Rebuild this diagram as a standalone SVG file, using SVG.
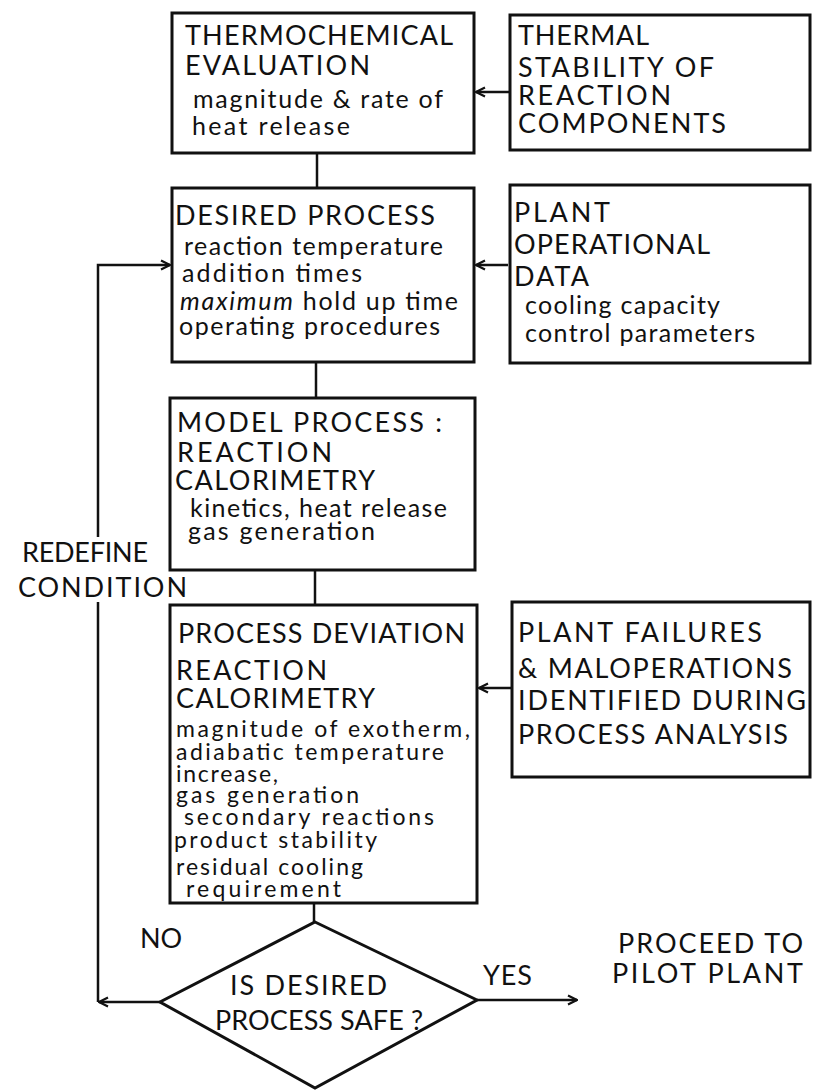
<svg xmlns="http://www.w3.org/2000/svg" width="814" height="1090" viewBox="0 0 814 1090">
<style>
  .box{fill:#fff;stroke:#111;stroke-width:3}
  .ln{fill:none;stroke:#111;stroke-width:2.5}
  text{font-family:Lato,"Liberation Sans",sans-serif;font-size:27px;fill:#111}
  text.lc{font-size:25px}
  text.sm{font-size:23px}
</style>
<defs>
  <marker id="ah" viewBox="0 0 12 12" refX="11" refY="6" markerWidth="12" markerHeight="12" markerUnits="userSpaceOnUse" orient="auto">
    <path d="M2,1.5 L11,6 L2,10.5" fill="none" stroke="#111" stroke-width="2.2"/>
  </marker>
</defs>
<rect width="814" height="1090" fill="#fff"/>

<g id="connectors">
  <line class="ln" x1="317" y1="153" x2="317" y2="188"/>
  <line class="ln" x1="316" y1="362" x2="316" y2="398"/>
  <line class="ln" x1="315" y1="570" x2="315" y2="605"/>
  <line class="ln" x1="314" y1="903" x2="314" y2="922"/>
  <line class="ln" x1="510" y1="92" x2="476" y2="92" marker-end="url(#ah)"/>
  <line class="ln" x1="508" y1="265" x2="476" y2="265" marker-end="url(#ah)"/>
  <line class="ln" x1="512" y1="688" x2="479" y2="688" marker-end="url(#ah)"/>
  <line class="ln" x1="160" y1="1002" x2="99" y2="1002" marker-end="url(#ah)"/>
  <polyline class="ln" points="98,1002 98,602"/>
  <polyline class="ln" points="98,537 98,265 170,265" marker-end="url(#ah)"/>
  <line class="ln" x1="477" y1="1000" x2="577" y2="1000" marker-end="url(#ah)"/>
</g>

<g id="thermochemical">
  <rect class="box" x="172" y="13" width="302" height="140"/>
  <text x="185" y="45" textLength="268">THERMOCHEMICAL</text>
  <text x="185" y="75" textLength="185">EVALUATION</text>
  <text class="lc" x="193" y="108" textLength="250">magnitude &amp; rate of</text>
  <text class="lc" x="192" y="135" textLength="158">heat release</text>
</g>

<g id="thermal-stability">
  <rect class="box" x="510" y="15" width="300" height="135"/>
  <text x="518" y="45" textLength="131">THERMAL</text>
  <text x="518" y="77" textLength="196">STABILITY OF</text>
  <text x="518" y="105" textLength="153">REACTION</text>
  <text x="518" y="133" textLength="208">COMPONENTS</text>
</g>

<g id="desired-process">
  <rect class="box" x="172" y="188" width="302" height="174"/>
  <text x="175" y="225" textLength="260">DESIRED  PROCESS</text>
  <text class="lc" x="184" y="255" textLength="259">reaction temperature</text>
  <text class="lc" x="182" y="282" textLength="180">addition  times</text>
  <text class="lc" x="180" y="310" textLength="278"><tspan font-style="italic">maximum</tspan> hold up time</text>
  <text class="lc" x="179" y="335" textLength="261">operating  procedures</text>
</g>

<g id="plant-operational">
  <rect class="box" x="510" y="185" width="300" height="178"/>
  <text x="514" y="222" textLength="96">PLANT</text>
  <text x="514" y="254" textLength="196">OPERATIONAL</text>
  <text x="514" y="286" textLength="75">DATA</text>
  <text class="lc" x="525" y="314" textLength="195">cooling capacity</text>
  <text class="lc" x="525" y="342" textLength="230">control parameters</text>
</g>

<g id="model-process">
  <rect class="box" x="170" y="398" width="305" height="172"/>
  <text x="177" y="432" textLength="265">MODEL PROCESS :</text>
  <text x="177" y="462" textLength="155">REACTION</text>
  <text x="175" y="490" textLength="200">CALORIMETRY</text>
  <text class="lc" x="190" y="517" textLength="257">kinetics, heat release</text>
  <text class="lc" x="188" y="540" textLength="187">gas  generation</text>
</g>

<g id="process-deviation">
  <rect class="box" x="170" y="605" width="307" height="298"/>
  <text x="178" y="643" textLength="287">PROCESS DEVIATION</text>
  <text x="176" y="680" textLength="151">REACTION</text>
  <text x="176" y="708" textLength="199">CALORIMETRY</text>
  <text class="sm" x="176" y="737" textLength="294">magnitude of exotherm,</text>
  <text class="sm" x="176" y="760" textLength="268">adiabatic  temperature</text>
  <text class="sm" x="176" y="782" textLength="102">increase,</text>
  <text class="sm" x="176" y="803" textLength="183">gas generation</text>
  <text class="sm" x="184" y="825" textLength="250">secondary  reactions</text>
  <text class="sm" x="174" y="848" textLength="203">product stability</text>
  <text class="sm" x="176" y="875" textLength="187">residual cooling</text>
  <text class="sm" x="186" y="897" textLength="155">requirement</text>
</g>

<g id="plant-failures">
  <rect class="box" x="512" y="602" width="298" height="175"/>
  <text x="518" y="642" textLength="244">PLANT  FAILURES</text>
  <text x="518" y="678" textLength="274">&amp; MALOPERATIONS</text>
  <text x="518" y="710" textLength="288">IDENTIFIED  DURING</text>
  <text x="518" y="744" textLength="270">PROCESS ANALYSIS</text>
</g>

<g id="decision">
  <polygon class="box" points="315,922 477,1000 315,1088 160,1002"/>
  <text x="230" y="995" textLength="157">IS  DESIRED</text>
  <text x="215" y="1030" textLength="208">PROCESS SAFE ?</text>
</g>

<g id="labels">
  <text x="22" y="562" textLength="126">REDEFINE</text>
  <text x="18" y="597" textLength="169">CONDITION</text>
  <text x="140" y="948">NO</text>
  <text x="483" y="985" textLength="49">YES</text>
  <text x="618" y="953" textLength="185">PROCEED  TO</text>
  <text x="612" y="983" textLength="191">PILOT  PLANT</text>
</g>
</svg>
